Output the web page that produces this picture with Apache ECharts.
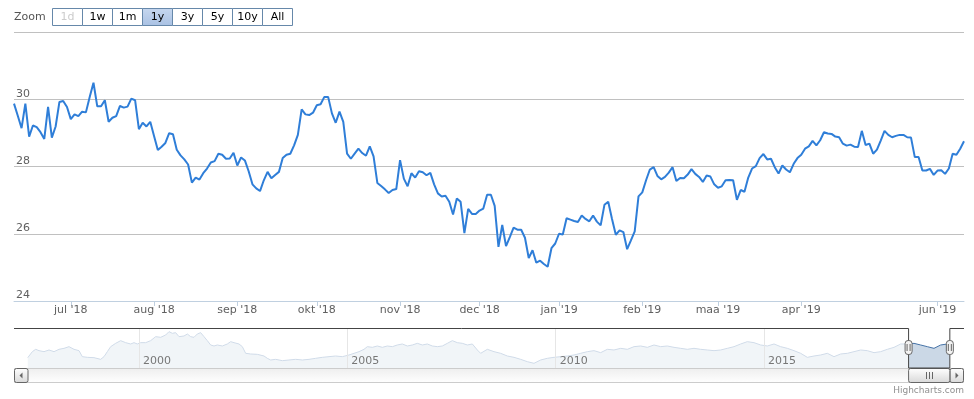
<!DOCTYPE html>
<html>
<head>
<meta charset="utf-8">
<script src="https://cdn.jsdelivr.net/npm/echarts@6/dist/echarts.min.js"></script>
<style>html,body{margin:0;padding:0;background:#fff}#chart{width:974px;height:399px}</style>
</head>
<body>
<div id="chart"></div>
<script>
// koersen laatste jaar (handelsdagen, ordinale as)
var prices = [
  29.87, 29.51, 29.14, 29.87, 28.89, 29.22, 29.17, 29.02, 28.82, 29.77,
  28.86, 29.19, 29.92, 29.95, 29.77, 29.41, 29.55, 29.50, 29.63, 29.61,
  30.07, 30.49, 29.79, 29.79, 29.97, 29.33, 29.45, 29.50, 29.80, 29.75,
  29.78, 30.02, 29.97, 29.11, 29.30, 29.19, 29.33, 28.91, 28.49, 28.59,
  28.70, 28.99, 28.96, 28.50, 28.33, 28.21, 28.06, 27.52, 27.67, 27.61,
  27.80, 27.94, 28.12, 28.16, 28.38, 28.35, 28.23, 28.24, 28.41, 28.03,
  28.27, 28.18, 27.86, 27.47, 27.35, 27.27, 27.59, 27.84, 27.65, 27.75,
  27.84, 28.25, 28.35, 28.38, 28.63, 28.94, 29.70, 29.55, 29.53, 29.60,
  29.82, 29.85, 30.07, 30.07, 29.58, 29.30, 29.63, 29.33, 28.38, 28.23,
  28.38, 28.53, 28.40, 28.32, 28.60, 28.30, 27.51, 27.42, 27.32, 27.21,
  27.30, 27.33, 28.19, 27.64, 27.41, 27.80, 27.67, 27.86, 27.83, 27.74,
  27.81, 27.47, 27.20, 27.11, 27.13, 26.95, 26.57, 27.05, 26.95, 26.02,
  26.74, 26.59, 26.59, 26.69, 26.75, 27.16, 27.16, 26.83, 25.61, 26.26,
  25.63, 25.90, 26.18, 26.12, 26.12, 25.88, 25.28, 25.51, 25.14, 25.20,
  25.10, 25.02, 25.57, 25.71, 26.00, 25.98, 26.46, 26.42, 26.38, 26.35,
  26.54, 26.44, 26.37, 26.54, 26.36, 26.25, 26.86, 26.95, 26.44, 25.97,
  26.10, 26.05, 25.54, 25.80, 26.07, 27.11, 27.23, 27.59, 27.91, 27.98,
  27.72, 27.62, 27.69, 27.82, 27.98, 27.57, 27.66, 27.65, 27.76, 27.92,
  27.78, 27.69, 27.54, 27.73, 27.70, 27.47, 27.37, 27.41, 27.59, 27.60,
  27.59, 27.01, 27.30, 27.25, 27.67, 27.94, 28.01, 28.25, 28.37, 28.21,
  28.23, 27.98, 27.79, 28.03, 27.91, 27.83, 28.08, 28.25, 28.35, 28.53,
  28.60, 28.76, 28.63, 28.78, 29.02, 28.98, 28.97, 28.89, 28.87, 28.68,
  28.62, 28.65, 28.59, 28.58, 29.06, 28.64, 28.68, 28.38, 28.50, 28.77,
  29.06, 28.94, 28.87, 28.91, 28.94, 28.94, 28.87, 28.86, 28.28, 28.28,
  27.88, 27.88, 27.93, 27.75, 27.88, 27.89, 27.78, 27.94, 28.38, 28.35,
  28.53, 28.75
];
var monthLabels = ["jul '18", "aug '18", "sep '18", "okt '18", "nov '18", "dec '18",
  "jan '19", "feb '19", "maa '19", "apr '19", "jun '19"];
var monthIdx = [15, 37, 59, 80, 102, 123, 144, 166, 186, 208, 244];

// navigator: hele historie
var navYears = [
  1997.33, 1997.44, 1997.52, 1997.60, 1997.72, 1997.84, 1997.96, 1998.08, 1998.20, 1998.32,
  1998.44, 1998.56, 1998.64, 1998.76, 1998.92, 1999.08, 1999.16, 1999.24, 1999.32, 1999.44,
  1999.56, 1999.68, 1999.80, 1999.88, 1999.96, 2000.04, 2000.16, 2000.28, 2000.40, 2000.52,
  2000.64, 2000.72, 2000.80, 2000.88, 2000.96, 2001.08, 2001.16, 2001.24, 2001.32, 2001.40,
  2001.48, 2001.56, 2001.64, 2001.72, 2001.80, 2001.88, 2002.00, 2002.12, 2002.20, 2002.28,
  2002.40, 2002.48, 2002.56, 2002.68, 2002.84, 2003.00, 2003.08, 2003.16, 2003.28, 2003.44,
  2003.60, 2003.76, 2003.92, 2004.08, 2004.24, 2004.40, 2004.56, 2004.72, 2004.88, 2005.04,
  2005.16, 2005.28, 2005.40, 2005.48, 2005.60, 2005.72, 2005.84, 2005.96, 2006.08, 2006.20,
  2006.32, 2006.44, 2006.56, 2006.68, 2006.80, 2006.92, 2007.04, 2007.16, 2007.28, 2007.40,
  2007.52, 2007.64, 2007.76, 2007.88, 2008.00, 2008.12, 2008.20,
  2008.36, 2008.52, 2008.68, 2008.84, 2009.00, 2009.16, 2009.32, 2009.48, 2009.64, 2009.80,
  2009.96, 2010.12, 2010.28, 2010.44, 2010.60, 2010.76, 2010.92, 2011.08, 2011.24, 2011.40,
  2011.56, 2011.72, 2011.88, 2012.04, 2012.20, 2012.36, 2012.52, 2012.68, 2012.84, 2013.00,
  2013.16, 2013.32, 2013.48, 2013.64, 2013.80, 2013.96, 2014.12, 2014.28, 2014.44, 2014.60,
  2014.76, 2014.92, 2015.08, 2015.24, 2015.40, 2015.56, 2015.72, 2015.88, 2016.04, 2016.20,
  2016.36, 2016.52, 2016.68, 2016.84, 2017.00, 2017.16, 2017.32, 2017.48, 2017.64, 2017.80,
  2017.96, 2018.12, 2018.28, 2018.44, 2018.60, 2018.76, 2018.92, 2019.08, 2019.24, 2019.40,
  2019.46
];
var navValues = [
  19.52, 23.81, 25.48, 24.52, 23.81, 25.00, 23.81, 25.48, 26.19, 27.38,
  25.48, 24.52, 20.24, 19.76, 19.52, 18.33, 20.24, 23.81, 27.38, 29.76,
  31.67, 30.24, 29.29, 30.24, 29.29, 30.24, 30.24, 31.67, 34.52, 34.05,
  35.71, 38.10, 36.90, 37.38, 34.52, 35.00, 36.43, 34.52, 34.05, 36.43,
  37.38, 34.52, 31.67, 28.57, 27.86, 28.57, 27.86, 29.29, 30.95, 30.24,
  29.29, 27.38, 22.62, 22.14, 21.90, 20.71, 19.05, 17.86, 18.33, 17.38,
  17.86, 18.33, 17.86, 18.33, 19.05, 19.76, 20.24, 20.71, 20.24, 21.43,
  22.62, 23.81, 25.48, 27.38, 26.90, 27.86, 26.90, 27.86, 27.38, 28.57,
  29.29, 27.86, 28.57, 29.76, 28.57, 29.29, 27.86, 27.38, 27.86, 29.76,
  31.67, 30.24, 29.76, 28.57, 29.29, 25.00, 22.62,
  25.48, 23.81, 22.62, 20.71, 19.76, 18.33, 16.67, 15.48, 17.86, 19.05,
  19.76, 20.24, 20.71, 21.43, 22.62, 23.81, 24.52, 23.10, 25.48, 25.00,
  26.19, 25.48, 27.38, 27.86, 26.90, 28.57, 27.38, 27.86, 26.90, 26.19,
  25.48, 26.19, 25.48, 25.00, 24.52, 25.00, 26.19, 27.38, 29.29, 30.95,
  30.24, 28.57, 27.86, 29.29, 27.38, 26.19, 24.52, 22.62, 19.76, 20.71,
  21.43, 22.62, 20.24, 22.14, 22.62, 23.81, 25.00, 24.52, 23.10, 23.81,
  25.48, 26.90, 29.29, 29.29, 29.76, 28.57, 27.38, 26.19, 28.57, 29.29,
  28.75
];
var navTicks = [2000, 2005, 2010, 2015];
var zoomButtons = ['1d', '1w', '1m', '1y', '3y', '5y', '10y', 'All'];
var selectedButton = '1y';
var disabledButton = '1d';
var selStart = 2018.47, selEnd = 2019.46;

var FONT = 'DejaVu Sans';

var mainData = prices.map(function (v, i) { return [i, v]; });
var navData = navYears.map(function (y, i) { return [y, navValues[i]]; });

var chart = echarts.init(document.getElementById('chart'));
chart.setOption({
  animation: false,
  grid: [
    { left: 14, right: 10, top: 32, height: 269 },
    { left: 14, right: 10, top: 328, height: 40 }
  ],
  xAxis: [
    {
      type: 'value', gridIndex: 0, min: 0, max: prices.length - 1,
      axisLine: { show: true, lineStyle: { color: '#C0D0E0', width: 1 } },
      axisTick: { show: true, customValues: monthIdx, length: 5, lineStyle: { color: '#C0D0E0' } },
      axisLabel: {
        customValues: monthIdx, margin: 4, color: '#606060', fontSize: 11, fontFamily: FONT,
        formatter: function (v) { return monthLabels[monthIdx.indexOf(v)] || ''; }
      },
      splitLine: { show: false }
    },
    {
      type: 'value', gridIndex: 1, min: 1997.0, max: 2019.8, z: 10,
      axisLine: { show: false },
      axisTick: { show: false, customValues: navTicks },
      axisLabel: {
        customValues: navTicks, inside: true, margin: 1, align: 'left', padding: [0, 0, 0, 4],
        color: '#777', fontSize: 11, fontFamily: FONT,
        formatter: function (v) { return String(v); }
      },
      splitLine: { show: true, lineStyle: { color: '#e6e6e6', width: 1 } }
    }
  ],
  yAxis: [
    {
      type: 'value', gridIndex: 0, min: 24, max: 32, interval: 2,
      axisLine: { show: false }, axisTick: { show: false },
      axisLabel: {
        inside: true, margin: 2, verticalAlign: 'bottom', showMaxLabel: false,
        color: '#606060', fontSize: 11, fontFamily: FONT
      },
      splitLine: { lineStyle: { color: '#C0C0C0', width: 1 } }
    },
    {
      type: 'value', gridIndex: 1, min: 12.14, max: 40.71, show: false,
      splitLine: { show: false }
    }
  ],
  series: [
    {
      type: 'line', xAxisIndex: 0, yAxisIndex: 0, data: mainData,
      showSymbol: false, lineStyle: { color: '#2f7ed8', width: 2 }, itemStyle: { color: '#2f7ed8' }
    },
    {
      type: 'line', xAxisIndex: 1, yAxisIndex: 1, data: navData,
      showSymbol: false, lineStyle: { color: '#4572A7', width: 1 },
      areaStyle: { color: 'rgba(69,114,167,0.4)' }
    }
  ]
});

// range selector, navigator-mask, scrollbar
var xs = chart.convertToPixel({ xAxisIndex: 1 }, selStart);
var xe = chart.convertToPixel({ xAxisIndex: 1 }, selEnd);
var L = 14, R = 964, navTop = 328, navBot = 368;
var g = [];

g.push({ type: 'text', x: 14, y: 17, z: 100,
  style: { text: 'Zoom', fill: '#555', font: '11px ' + FONT, textVerticalAlign: 'middle', verticalAlign: 'middle' } });
zoomButtons.forEach(function (b, k) {
  var bx = 52.5 + k * 30;
  var sel = b === selectedButton;
  g.push({ type: 'rect', z: 100, shape: { x: bx, y: 8.5, width: 30, height: 17 },
    style: {
      fill: sel ? new echarts.graphic.LinearGradient(0, 0, 0, 1, [{ offset: 0, color: '#c6d7ef' }, { offset: 1, color: '#a9c1e3' }]) : '#ffffff',
      stroke: '#6688AA', lineWidth: 1
    } });
  g.push({ type: 'text', x: bx + 15, y: 17.5, z: 101,
    style: { text: b, fill: b === disabledButton ? '#cccccc' : '#000000', font: '11px ' + FONT,
      textAlign: 'center', align: 'center', textVerticalAlign: 'middle', verticalAlign: 'middle' } });
});

// mask buiten selectie (onder de aslabels, boven de reeks)
g.push({ type: 'rect', z: 5, shape: { x: L, y: navTop, width: xs - L, height: navBot - navTop },
  style: { fill: 'rgba(255,255,255,0.75)' } });
g.push({ type: 'rect', z: 5, shape: { x: xe, y: navTop, width: R - xe, height: navBot - navTop },
  style: { fill: 'rgba(255,255,255,0.75)' } });

// scrollbar
var barGrad = function () {
  return new echarts.graphic.LinearGradient(0, 0, 0, 1, [{ offset: 0, color: '#ffffff' }, { offset: 1, color: '#d8d8d8' }]);
};
g.push({ type: 'rect', z: 100, shape: { x: L + 0.5, y: navBot + 0.5, width: R - L - 1, height: 14 },
  style: { fill: new echarts.graphic.LinearGradient(0, 0, 0, 1, [{ offset: 0, color: '#eeeeee' }, { offset: 1, color: '#ffffff' }]), stroke: '#cccccc', lineWidth: 1 } });
g.push({ type: 'rect', z: 101, shape: { x: L + 0.5, y: navBot + 0.5, width: 13.5, height: 14, r: 2 },
  style: { fill: barGrad(), stroke: '#666', lineWidth: 1 } });
g.push({ type: 'polygon', z: 102, shape: { points: [[22.5, 372.5], [22.5, 378.5], [19.5, 375.5]] }, style: { fill: '#666' } });
g.push({ type: 'rect', z: 101, shape: { x: R - 14, y: navBot + 0.5, width: 13.5, height: 14, r: 2 },
  style: { fill: barGrad(), stroke: '#666', lineWidth: 1 } });
g.push({ type: 'polygon', z: 102, shape: { points: [[955.5, 372.5], [955.5, 378.5], [958.5, 375.5]] }, style: { fill: '#666' } });
g.push({ type: 'rect', z: 101, shape: { x: xs, y: navBot + 0.5, width: xe - xs, height: 14, r: 2 },
  style: { fill: barGrad(), stroke: '#666', lineWidth: 1 } });
var cx = Math.round((xs + xe) / 2) + 0.5;
[-3, 0, 3].forEach(function (d) {
  g.push({ type: 'line', z: 102, shape: { x1: cx + d, y1: 372, x2: cx + d, y2: 379 }, style: { stroke: '#666', lineWidth: 1 } });
});

// outline
g.push({ type: 'polyline', z: 103,
  shape: { points: [[L, navTop + 0.5], [xs, navTop + 0.5], [xs, navBot], [xe, navBot], [xe, navTop + 0.5], [R, navTop + 0.5]] },
  style: { stroke: '#444', lineWidth: 1, fill: null } });

// handles
[xs, xe].forEach(function (hx) {
  g.push({ type: 'rect', z: 104, shape: { x: hx - 3.5, y: 340.5, width: 7, height: 14, r: 3 },
    style: { fill: '#f2f2f2', stroke: '#666', lineWidth: 1 } });
  [-1.5, 1.5].forEach(function (d) {
    g.push({ type: 'line', z: 105, shape: { x1: hx + d, y1: 344, x2: hx + d, y2: 351 }, style: { stroke: '#666', lineWidth: 1 } });
  });
});

g.push({ type: 'text', x: 964, y: 391, z: 100,
  style: { text: 'Highcharts.com', fill: '#909090', font: '9px ' + FONT,
    textAlign: 'right', align: 'right', textVerticalAlign: 'middle', verticalAlign: 'middle' } });

chart.setOption({ graphic: g });
</script>
</body>
</html>
